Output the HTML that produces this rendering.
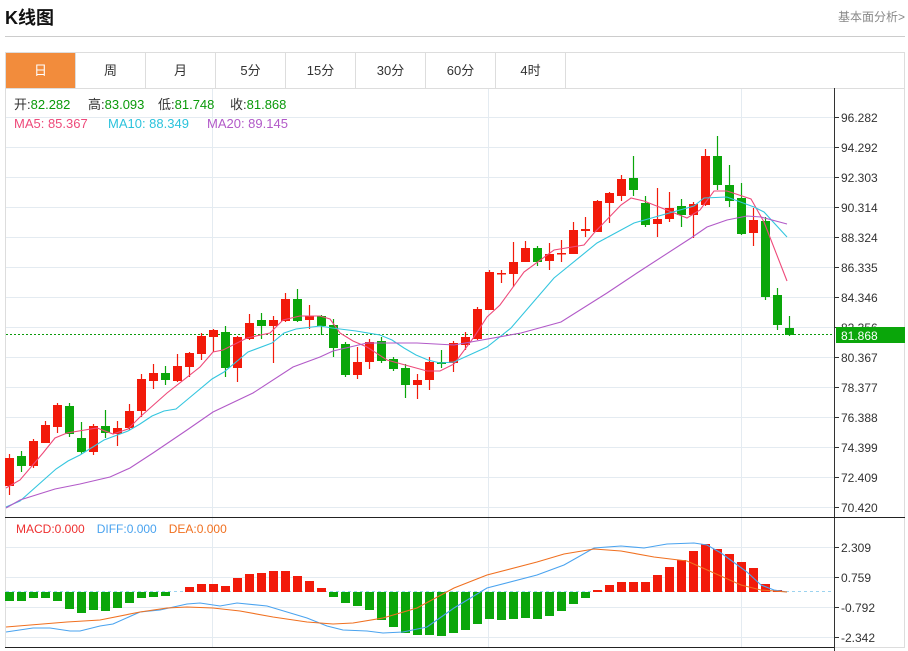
<!DOCTYPE html>
<html><head><meta charset="utf-8"><style>
body{margin:0;background:#fff;width:908px;height:651px;overflow:hidden;font-family:"Liberation Sans","Noto Sans CJK SC",sans-serif}
#hd{position:absolute;left:5px;top:4px;font-size:18px;font-weight:bold;color:#111}
#more{position:absolute;right:3px;top:8px;font-size:12px;color:#888}
#ln{position:absolute;left:5px;top:36px;width:900px;height:1px;background:#ccc}
.tabs{position:absolute;left:5px;top:52px;width:898px;height:35px;border:1px solid #ddd;border-bottom:none}
.tab{position:absolute;top:0;width:69px;height:35px;border-right:1px solid #ddd;text-align:center;line-height:35px;font-size:13px;color:#333}
svg{position:absolute;left:0;top:0}
</style></head><body>
<div id="hd">K线图</div><div id="more">基本面分析&gt;</div><div id="ln"></div>
<div class="tabs">
<div class="tab" style="left:0;background:#f28c3c;color:#fff">日</div>
<div class="tab" style="left:70px">周</div><div class="tab" style="left:140px">月</div>
<div class="tab" style="left:210px">5分</div><div class="tab" style="left:280px">15分</div>
<div class="tab" style="left:350px">30分</div><div class="tab" style="left:420px">60分</div>
<div class="tab" style="left:490px">4时</div></div>
<svg id="s" width="908" height="651" xmlns="http://www.w3.org/2000/svg" font-family="Liberation Sans, Noto Sans CJK SC, sans-serif">
<g id="grid"></g><g id="c"></g><g id="m"></g>
<text y="109" font-size="13" fill="#333"><tspan x="14">开:</tspan><tspan fill="#0a9a0a">82.282</tspan><tspan x="88">高:</tspan><tspan fill="#0a9a0a">83.093</tspan><tspan x="158">低:</tspan><tspan fill="#0a9a0a">81.748</tspan><tspan x="230">收:</tspan><tspan fill="#0a9a0a">81.868</tspan></text>
<text y="128" font-size="13"><tspan x="14" fill="#ee4a7a">MA5: 85.367</tspan><tspan x="108" fill="#2cc3dc">MA10: 88.349</tspan><tspan x="207" fill="#b25ac8">MA20: 89.145</tspan></text>
<text x="16" y="533" font-size="12"><tspan fill="#ee3030">MACD:0.000</tspan><tspan dx="12" fill="#4aa3ef">DIFF:0.000</tspan><tspan dx="12" fill="#f07020">DEA:0.000</tspan></text>
</svg>
<script>
var NS="http://www.w3.org/2000/svg";
function el(p,t,a,tx){var e=document.createElementNS(NS,t);for(var k in a)e.setAttribute(k,a[k]);if(tx!==undefined)e.textContent=tx;document.getElementById(p).appendChild(e);return e;}
el('grid','rect',{x:5.5,y:88.5,width:899,height:559,fill:'none',stroke:'#ddd'});
var ticks=["96.282","94.292","92.303","90.314","88.324","86.335","84.346","82.356","80.367","78.377","76.388","74.399","72.409","70.420"];
for(var i=0;i<14;i++){var y=117+30*i+0.5;el('grid','line',{x1:6,x2:834,y1:y,y2:y,stroke:'#e4ebf1'});el('grid','line',{x1:835,x2:839,y1:y,y2:y,stroke:'#333'});el('grid','text',{x:841,y:y+4.5,'font-size':12,fill:'#333'},ticks[i]);}
var mt=["2.309","0.759","-0.792","-2.342"];
for(var i=0;i<4;i++){var y=547+30*i+0.5;el('grid','line',{x1:6,x2:834,y1:y,y2:y,stroke:'#e4ebf1'});el('grid','line',{x1:835,x2:839,y1:y,y2:y,stroke:'#333'});el('grid','text',{x:841,y:y+4.5,'font-size':12,fill:'#333'},mt[i]);}
[212,488,741].forEach(function(x){el('grid','line',{x1:x+.5,x2:x+.5,y1:89,y2:647,stroke:'#e4ebf1'});});
el('grid','line',{x1:834.5,x2:834.5,y1:88,y2:651,stroke:'#333'});
el('grid','line',{x1:5,x2:905,y1:517.5,y2:517.5,stroke:'#222'});
el('grid','line',{x1:5,x2:834,y1:647.5,y2:647.5,stroke:'#222'});
el('grid','line',{x1:6,x2:834,y1:591.5,y2:591.5,stroke:'#9cd3ef','stroke-dasharray':'3,3'});
el('grid','line',{x1:6,x2:834,y1:334.5,y2:334.5,stroke:'#0a9a0a','stroke-dasharray':'2,2'});
var C=[[1,458,486,454,495],[0,456,466,451,472],[1,441,466,439,468],[1,425,443,421,443],[1,405,427,403,433],[0,406,434,403,437],[0,438,452,422,454],[1,426,452,424,455],[0,426,433,410,438],[1,428,434,421,446],[1,411,428,404,430],[1,379,411,374,417],[1,373,381,364,389],[0,373,380,366,385],[1,366,381,354,382],[1,353,367,352,377],[1,336,354,333,360],[1,330,337,329,352],[0,332,368,326,377],[1,337,368,336,382],[1,323,339,314,340],[0,320,326,313,339],[1,320,326,316,363],[1,299,321,293,322],[0,299,321,289,322],[1,316,320,305,329],[0,316,326,315,335],[0,325,348,319,357],[0,344,375,342,377],[1,362,375,347,379],[1,342,362,339,369],[0,341,361,337,363],[0,359,369,357,371],[0,368,385,364,398],[1,380,385,374,399],[1,362,380,357,390],[0,362,364,350,368],[1,343,363,341,372],[1,337,345,332,350],[1,309,339,307,340],[1,272,310,270,310],[1,273,274,270,283],[1,262,274,242,287],[1,248,262,241,262],[0,248,262,246,266],[1,254,261,243,270],[1,253,254,240,262],[1,230,254,222,254],[1,229,231,217,237],[1,201,232,200,232],[1,193,203,192,223],[1,179,196,175,201],[0,178,190,156,196],[0,203,225,196,227],[1,219,224,188,237],[1,208,219,192,222],[0,206,215,199,227],[1,204,215,202,238],[1,156,205,149,206],[0,156,185,136,190],[0,185,201,165,207],[0,198,234,183,235],[1,220,233,208,246],[0,221,297,217,300],[0,295,325,288,330],[0,328,335,316,336]];
var R='#f21a0a',G='#0aa60a';
C.forEach(function(c,i){var x=9.5+12*i,col=c[0]?R:G;
el('c','line',{x1:x,x2:x,y1:c[3],y2:c[4],stroke:col,'stroke-width':1.2});
el('c','rect',{x:x-4.5,y:c[1],width:9,height:Math.max(1.5,c[2]-c[1]),fill:col});});
function pl(g,pts,col){el(g,'polyline',{points:pts.map(function(p){return p.join(',')}).join(' '),fill:'none',stroke:col,'stroke-width':1.1});}
pl('c',[[6,488],[20,480],[43,453],[55,438],[67,433],[97,428],[113,434],[128,429],[140,417],[167,393],[200,367],[213,352],[223,350],[247,338],[270,333],[283,320],[300,316],[320,316],[330,319],[340,333],[353,341],[367,347],[387,360],[427,371],[440,371],[454,364],[474,337],[487,317],[500,305],[524,272],[554,250],[584,245],[594,233],[621,205],[631,198],[644,201],[687,218],[700,210],[714,191],[727,191],[751,199],[764,222],[787,281]],'#ee4a7a');
pl('c',[[6,507],[20,501],[56,469],[68,461],[80,455],[104,440],[128,431],[140,424],[152,416],[164,411],[176,409],[188,399],[212,379],[224,372],[248,352],[272,343],[284,333],[296,329],[320,326],[332,328],[356,331],[368,333],[380,335],[392,340],[404,348],[416,355],[428,360],[440,363],[454,362],[487,347],[511,328],[554,278],[597,243],[634,223],[694,206],[704,198],[727,197],[754,207],[764,212],[787,237]],'#34c6df');
pl('c',[[6,508],[20,500],[55,489],[80,484],[110,477],[130,468],[153,453],[187,430],[213,412],[253,393],[293,367],[320,357],[333,351],[367,343],[417,343],[454,345],[521,333],[561,322],[607,293],[637,273],[691,238],[707,227],[727,220],[747,216],[761,217],[787,224]],'#b25ac8');
el('c','rect',{x:836,y:327,width:69,height:16,fill:'#0aa60a'});
el('c','text',{x:841,y:340,'font-size':12,fill:'#fff'},'81.868');
var M=[601,601,598,598,601,609,613,610,611,608,603,598,597,596,592,587,584,584,586,578,574,573,571,571,576,581,588,597,603,606,610,620,627,633,635,635,636,633,630,624,619,620,619,618,619,616,611,604,598,590,585,582,582,582,575,567,560,551,544,549,554,562,568,584,590,592];
M.forEach(function(v,i){var x=9.5+12*i;if(Math.abs(v-592)<0.5)return;var up=v<592;
el('m','rect',{x:x-4.5,y:Math.min(v,592),width:9,height:Math.abs(v-592),fill:up?R:G});});
pl('m',[[6,632],[33,628],[50,628],[70,631],[80,631],[100,626],[113,624],[140,612],[160,610],[187,604],[200,603],[220,606],[237,603],[267,606],[287,612],[307,618],[327,626],[343,630],[367,631],[383,633],[403,632],[427,627],[454,608],[487,588],[537,575],[564,565],[594,548],[621,546],[644,548],[667,544],[694,543],[707,545],[721,553],[747,572],[761,585],[774,590],[787,592]],'#4aa3ef');
pl('m',[[6,627],[67,622],[100,620],[140,612],[167,608],[187,607],[213,608],[240,611],[273,617],[307,622],[333,624],[353,623],[383,618],[417,608],[454,588],[487,575],[537,562],[564,554],[594,549],[621,551],[654,557],[687,561],[714,573],[741,585],[761,590],[787,592]],'#f07020');
</script>
</body></html>
